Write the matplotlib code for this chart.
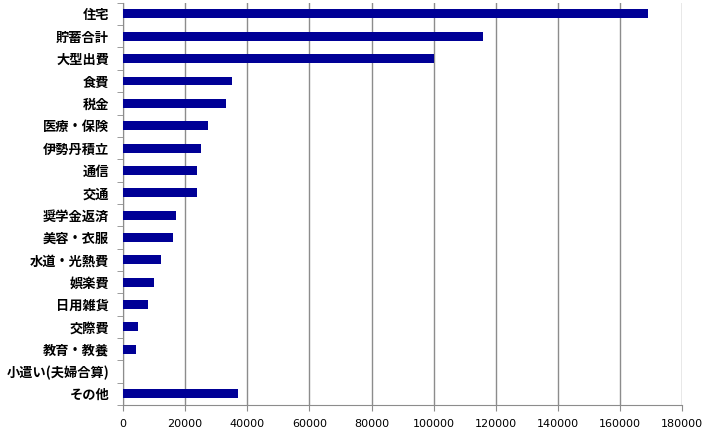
import matplotlib
matplotlib.use("Agg")
import matplotlib.pyplot as plt
import numpy as np

categories = [
    "住宅", "貯蓄合計", "大型出費", "食費", "税金", "医療・保険", "伊勢丹積立",
    "通信", "交通", "奨学金返済", "美容・衣服", "水道・光熱費", "娯楽費",
    "日用雑貨", "交際費", "教育・教養", "小遣い(夫婦合算)", "その他",
]
amounts = [
    169000, 116000, 100000, 35000, 33000, 27400, 25000,
    23800, 23800, 17000, 16100, 12200, 10000,
    8000, 4800, 4200, 0, 37000,
]
x_ticks = list(range(0, 180001, 20000))

plt.rcParams["font.family"] = ["Noto Sans CJK JP", "DejaVu Sans"]

fig = plt.figure(figsize=(7.12, 4.36), dpi=100)
ax = fig.add_axes([0.1728, 0.0711, 0.7852, 0.9225])

y = np.arange(len(categories))
ax.barh(y, amounts, height=0.4, color="#000096", zorder=3)

ax.set_xlim(0, 180000)
ax.set_ylim(len(categories) - 0.5, -0.5)
ax.set_xticks(x_ticks)
ax.set_xticklabels([str(v) for v in x_ticks], fontsize=8, family="DejaVu Sans")
ax.xaxis.grid(True, color="#8c8c8c", linewidth=1.0, zorder=0)

ax.set_yticks(y)
ax.set_yticklabels(categories, fontsize=9.5, fontweight="bold")
ax.set_yticks(np.arange(-0.5, len(categories), 1.0), minor=True)
ax.tick_params(axis="y", which="major", length=0, pad=10)
ax.tick_params(axis="y", which="minor", length=4, color="#8c8c8c", direction="out")
ax.tick_params(axis="x", length=4, color="#8c8c8c", pad=6)

for side in ("top", "right"):
    ax.spines[side].set_visible(False)
for side in ("left", "bottom"):
    ax.spines[side].set_color("#8c8c8c")

fig.savefig("out.png", dpi=100)
